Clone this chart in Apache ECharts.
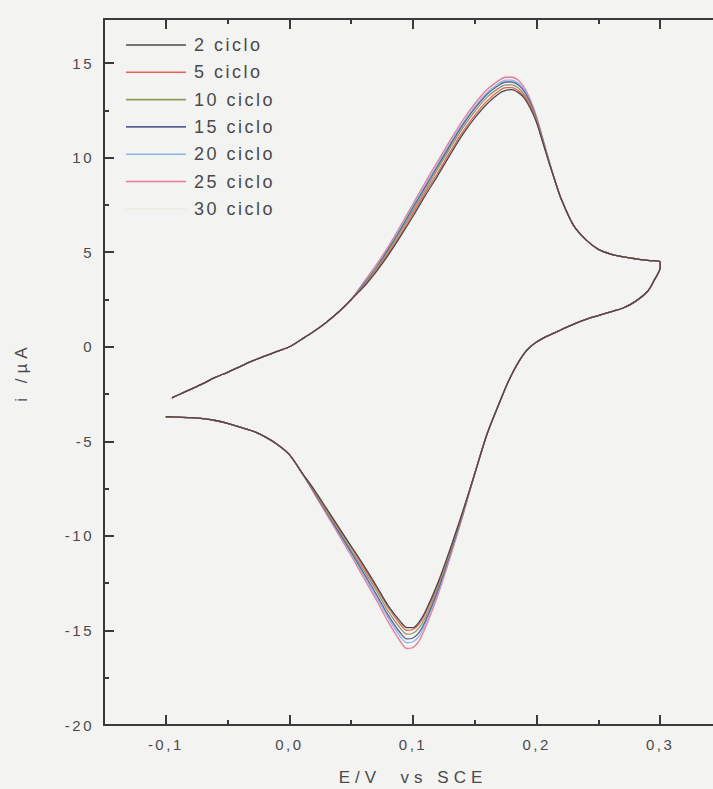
<!DOCTYPE html>
<html>
<head>
<meta charset="utf-8">
<script src="https://cdn.jsdelivr.net/npm/echarts@6/dist/echarts.min.js"></script>
<style>
  html, body { margin: 0; padding: 0; background: #f3f3f1; }
  #chart { width: 713px; height: 789px; }
  #chart text { letter-spacing: 2.5px; }
  #chart text[style*="17px"] { letter-spacing: 5px; }
</style>
</head>
<body>
<div id="chart"></div>
<script>
// Cyclic voltammograms, potential sweep -0.1 V -> 0.3 V -> -0.1 V (vs SCE), current in µA.

const CYCLES = ['2 ciclo', '5 ciclo', '10 ciclo', '15 ciclo', '20 ciclo', '25 ciclo', '30 ciclo'];
const COLORS = ['#4a4a4a', '#e8605a', '#8c9a5e', '#5a6298', '#8db4e6', '#e87a9a', '#ecebe4'];

// Anodic sweep, start (common to all cycles)
const E_ANODIC_START = [-0.095, -0.09, -0.08, -0.07, -0.06, -0.05, -0.04, -0.03, -0.02, -0.01, 0, 0.01, 0.02, 0.03, 0.04, 0.05];
const I_ANODIC_START = [-2.7, -2.55, -2.25, -1.95, -1.62, -1.35, -1.05, -0.75, -0.5, -0.25, 0.0, 0.4, 0.82, 1.3, 1.85, 2.5];

// Anodic peak region, per cycle
const E_ANODIC_PEAK = [0.06, 0.07, 0.08, 0.09, 0.10, 0.11, 0.12, 0.13, 0.14, 0.15, 0.16, 0.17, 0.175, 0.18, 0.185, 0.19, 0.195, 0.20, 0.205, 0.21, 0.215];
const I_ANODIC_PEAK_2  = [3.15, 3.95, 4.85, 5.85, 6.9, 8.0, 9.05, 10.15, 11.2, 12.1, 12.85, 13.4, 13.55, 13.6, 13.45, 13.15, 12.6, 11.85, 10.8, 9.75, 8.75];
const I_ANODIC_PEAK_5  = [3.2, 4.0, 4.95, 5.95, 7.05, 8.15, 9.2, 10.3, 11.35, 12.25, 13.0, 13.55, 13.7, 13.7, 13.55, 13.25, 12.7, 11.9, 10.85, 9.75, 8.75];
const I_ANODIC_PEAK_10 = [3.25, 4.1, 5.05, 6.1, 7.2, 8.3, 9.4, 10.5, 11.55, 12.45, 13.2, 13.7, 13.85, 13.85, 13.7, 13.35, 12.8, 12.0, 10.9, 9.8, 8.75];
const I_ANODIC_PEAK_15 = [3.3, 4.15, 5.15, 6.2, 7.35, 8.45, 9.55, 10.65, 11.7, 12.6, 13.35, 13.85, 14.0, 14.0, 13.85, 13.5, 12.9, 12.05, 10.95, 9.8, 8.75];
const I_ANODIC_PEAK_20 = [3.35, 4.2, 5.2, 6.3, 7.45, 8.55, 9.65, 10.75, 11.8, 12.7, 13.45, 13.95, 14.1, 14.1, 13.95, 13.6, 12.95, 12.1, 11.0, 9.85, 8.75];
const I_ANODIC_PEAK_25 = [3.4, 4.3, 5.3, 6.4, 7.55, 8.7, 9.8, 10.9, 11.95, 12.85, 13.6, 14.1, 14.25, 14.25, 14.1, 13.7, 13.05, 12.15, 11.0, 9.85, 8.75];
const I_ANODIC_PEAK_30 = [3.45, 4.35, 5.35, 6.45, 7.6, 8.75, 9.85, 10.95, 12.0, 12.9, 13.65, 14.15, 14.3, 14.3, 14.15, 13.75, 13.1, 12.2, 11.05, 9.9, 8.8];

// Anodic sweep, end (common)
const E_ANODIC_END = [0.22, 0.23, 0.24, 0.25, 0.26, 0.27, 0.28, 0.29, 0.30];
const I_ANODIC_END = [7.8, 6.4, 5.65, 5.15, 4.9, 4.75, 4.65, 4.57, 4.5];

// Cathodic sweep, start (common)
const E_CATHODIC_START = [0.30, 0.295, 0.29, 0.28, 0.27, 0.26, 0.25, 0.24, 0.23, 0.22, 0.215, 0.21, 0.205, 0.20, 0.195, 0.19, 0.185, 0.18, 0.175, 0.17, 0.16, 0.15];
const I_CATHODIC_START = [4.2, 3.5, 2.95, 2.4, 2.05, 1.85, 1.65, 1.45, 1.2, 0.9, 0.75, 0.6, 0.44, 0.25, 0.0, -0.35, -0.85, -1.45, -2.15, -2.95, -4.6, -6.7];

// Cathodic peak region, per cycle
const E_CATHODIC_PEAK = [0.14, 0.13, 0.12, 0.11, 0.105, 0.10, 0.095, 0.09, 0.08, 0.07, 0.06, 0.05, 0.04, 0.03, 0.02];
const I_CATHODIC_PEAK_2  = [-8.75, -10.7, -12.5, -14.0, -14.55, -14.85, -14.85, -14.55, -13.7, -12.6, -11.55, -10.55, -9.55, -8.55, -7.55];
const I_CATHODIC_PEAK_5  = [-8.8, -10.75, -12.6, -14.1, -14.65, -14.95, -15.0, -14.7, -13.8, -12.7, -11.65, -10.6, -9.6, -8.6, -7.6];
const I_CATHODIC_PEAK_10 = [-8.85, -10.85, -12.75, -14.3, -14.85, -15.15, -15.2, -14.9, -14.0, -12.85, -11.8, -10.75, -9.7, -8.7, -7.65];
const I_CATHODIC_PEAK_15 = [-8.9, -10.95, -12.9, -14.5, -15.1, -15.4, -15.45, -15.15, -14.2, -13.05, -11.95, -10.85, -9.8, -8.75, -7.7];
const I_CATHODIC_PEAK_20 = [-8.95, -11.05, -13.0, -14.65, -15.3, -15.6, -15.65, -15.35, -14.35, -13.2, -12.05, -10.95, -9.85, -8.8, -7.7];
const I_CATHODIC_PEAK_25 = [-9.0, -11.15, -13.15, -14.85, -15.55, -15.9, -15.95, -15.6, -14.55, -13.35, -12.2, -11.05, -9.95, -8.85, -7.75];
const I_CATHODIC_PEAK_30 = [-9.0, -11.2, -13.2, -14.9, -15.6, -15.95, -16.05, -15.7, -14.6, -13.4, -12.25, -11.1, -10.0, -8.9, -7.75];

// Cathodic sweep, end (common)
const E_CATHODIC_END = [0.01, 0, -0.01, -0.02, -0.03, -0.04, -0.05, -0.06, -0.07, -0.08, -0.09, -0.10];
const I_CATHODIC_END = [-6.65, -5.7, -5.15, -4.75, -4.45, -4.25, -4.05, -3.9, -3.8, -3.75, -3.72, -3.7];

const ANODIC_PEAKS = [I_ANODIC_PEAK_2, I_ANODIC_PEAK_5, I_ANODIC_PEAK_10, I_ANODIC_PEAK_15, I_ANODIC_PEAK_20, I_ANODIC_PEAK_25, I_ANODIC_PEAK_30];
const CATHODIC_PEAKS = [I_CATHODIC_PEAK_2, I_CATHODIC_PEAK_5, I_CATHODIC_PEAK_10, I_CATHODIC_PEAK_15, I_CATHODIC_PEAK_20, I_CATHODIC_PEAK_25, I_CATHODIC_PEAK_30];

// Axis ticks and labels
const X_MAJOR = [-0.1, 0, 0.1, 0.2, 0.3];
const X_MINOR = [-0.05, 0.05, 0.15, 0.25];
const Y_MAJOR = [-20, -15, -10, -5, 0, 5, 10, 15];
const Y_MINOR = [-17.5, -12.5, -7.5, -2.5, 2.5, 7.5, 12.5];

function pairs(es, is) {
  return es.map((e, k) => [e, is[k]]);
}

function cycleData(idx) {
  return [].concat(
    pairs(E_ANODIC_START, I_ANODIC_START),
    pairs(E_ANODIC_PEAK, ANODIC_PEAKS[idx]),
    pairs(E_ANODIC_END, I_ANODIC_END),
    pairs(E_CATHODIC_START, I_CATHODIC_START),
    pairs(E_CATHODIC_PEAK, CATHODIC_PEAKS[idx]),
    pairs(E_CATHODIC_END, I_CATHODIC_END)
  );
}

const FONT = "'Liberation Sans', Arial, sans-serif";
const AXIS_COLOR = '#3a3a3a';
const TEXT_COLOR = '#4a4a4a';

// Two identical grids: the first carries the data and major ticks, the second the minor ticks.
const gridBox = { left: 104, top: 19, width: 618, height: 706, outerBoundsMode: 'none', containLabel: false };

function xAxisBase(gridIndex, position) {
  return {
    type: 'value', gridIndex, position,
    min: -0.15, max: 0.35, interval: 0.05,
    splitLine: { show: false },
    axisLine: { show: true, onZero: false, lineStyle: { color: AXIS_COLOR, width: 2 } },
    axisLabel: { show: false }
  };
}
function yAxisBase(gridIndex) {
  return {
    type: 'value', gridIndex, position: 'left',
    min: -20, max: 17.33, interval: 5,
    splitLine: { show: false },
    axisLine: { show: true, onZero: false, lineStyle: { color: AXIS_COLOR, width: 2 } },
    axisLabel: { show: false }
  };
}

const xMainBottom = Object.assign(xAxisBase(0, 'bottom'), {
  axisTick: { show: true, inside: true, length: 10, customValues: X_MAJOR, lineStyle: { color: AXIS_COLOR, width: 2 } },
  axisLabel: {
    show: true, customValues: X_MAJOR, margin: 12, fontSize: 15, color: TEXT_COLOR, fontFamily: FONT,
    formatter: v => v.toFixed(1).replace('.', ',')
  },
  name: 'E/V  vs SCE', nameLocation: 'middle', nameGap: 44,
  nameTextStyle: { fontSize: 17, color: TEXT_COLOR, fontFamily: FONT }
});
const xMainTop = Object.assign(xAxisBase(0, 'top'), {
  axisTick: { show: true, inside: true, length: 10, customValues: X_MAJOR, lineStyle: { color: AXIS_COLOR, width: 2 } }
});
const xMinorBottom = Object.assign(xAxisBase(1, 'bottom'), {
  axisLine: { show: false, onZero: false },
  axisTick: { show: true, inside: true, length: 5, customValues: X_MINOR, lineStyle: { color: AXIS_COLOR, width: 2 } }
});
const xMinorTop = Object.assign(xAxisBase(1, 'top'), {
  axisLine: { show: false, onZero: false },
  axisTick: { show: true, inside: true, length: 5, customValues: X_MINOR, lineStyle: { color: AXIS_COLOR, width: 2 } }
});
const yMain = Object.assign(yAxisBase(0), {
  axisTick: { show: true, inside: true, length: 10, customValues: Y_MAJOR, lineStyle: { color: AXIS_COLOR, width: 2 } },
  axisLabel: { show: true, customValues: Y_MAJOR, margin: 10, fontSize: 15, color: TEXT_COLOR, fontFamily: FONT },
  name: 'i /\u00b5A', nameLocation: 'middle', nameGap: 74, nameRotate: 90,
  nameTextStyle: { fontSize: 17, color: TEXT_COLOR, fontFamily: FONT }
});
const yMinor = Object.assign(yAxisBase(1), {
  axisLine: { show: false, onZero: false },
  axisTick: { show: true, inside: true, length: 5, customValues: Y_MINOR, lineStyle: { color: AXIS_COLOR, width: 2 } }
});

const series = CYCLES.map((name, idx) => ({
  name,
  type: 'line',
  xAxisIndex: 0,
  yAxisIndex: 0,
  data: cycleData(idx),
  symbol: 'none',
  smooth: 0.3,
  z: 10 - idx,
  color: COLORS[idx],
  lineStyle: { color: COLORS[idx], width: 1.3 }
}));

const chart = echarts.init(document.getElementById('chart'), null, { renderer: 'svg' });
chart.setOption({
  backgroundColor: '#f3f3f1',
  animation: false,
  grid: [Object.assign({}, gridBox), Object.assign({}, gridBox)],
  xAxis: [xMainBottom, xMainTop, xMinorBottom, xMinorTop],
  yAxis: [yMain, yMinor],
  legend: {
    data: CYCLES,
    orient: 'vertical',
    left: 121,
    top: 31,
    icon: 'rect',
    itemWidth: 60,
    itemHeight: 1.6,
    itemGap: 9.3,
    selectedMode: false,
    textStyle: { fontSize: 18, color: TEXT_COLOR, fontFamily: FONT, padding: [0, 0, 0, 3] }
  },
  series
});
</script>
</body>
</html>
